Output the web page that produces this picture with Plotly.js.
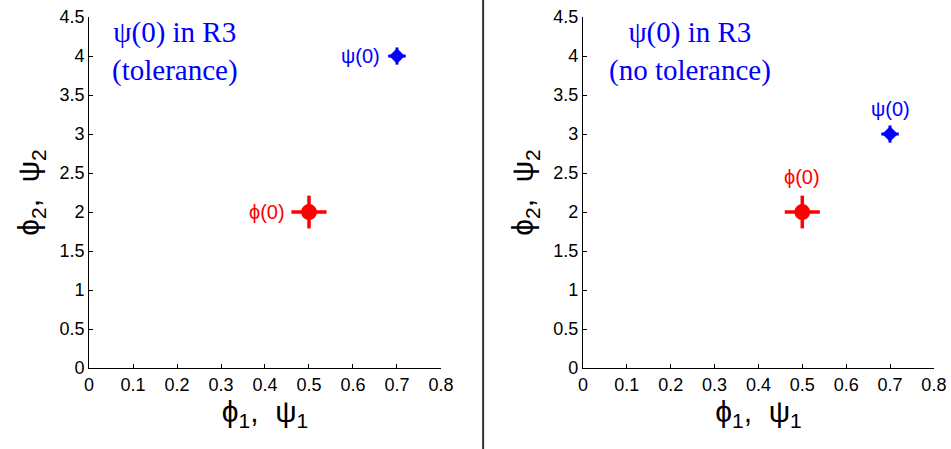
<!DOCTYPE html>
<html>
<head>
<meta charset="utf-8">
<script src="https://cdn.plot.ly/plotly-3.0.1.min.js"></script>
<style>html,body{margin:0;padding:0;background:#fff;}#chart{width:951px;height:449px;}</style>
</head>
<body>
<div id="chart"></div>
<script>
// Data
const phiX = [0.5];
const phiY = [2];
const phiErrX = [0.04];
const phiErrY = [0.21];
const psiLeftX = [0.7];
const psiLeftY = [4];
const psiRightX = [0.7];
const psiRightY = [3];
const psiErrX = [0.02];
const psiErrY = [0.11];
const xTicks = [0, 0.1, 0.2, 0.3, 0.4, 0.5, 0.6, 0.7, 0.8];
const yTicks = [0, 0.5, 1, 1.5, 2, 2.5, 3, 3.5, 4, 4.5];
const panelTitles = ["ψ(0) in R3<br>(tolerance)", "ψ(0) in R3<br>(no tolerance)"];

const RED = '#ff0000', BLUE = '#0000ff';

function phiTrace(xa, ya) {
  return {x: phiX, y: phiY, xaxis: xa, yaxis: ya, type: 'scatter', mode: 'markers',
    marker: {color: RED, size: 16, symbol: 'circle'},
    error_x: {type: 'data', array: phiErrX, color: RED, thickness: 3.5, width: 0},
    error_y: {type: 'data', array: phiErrY, color: RED, thickness: 3.5, width: 0},
    hoverinfo: 'skip', showlegend: false};
}
function psiTrace(xs, ys, xa, ya) {
  return {x: xs, y: ys, xaxis: xa, yaxis: ya, type: 'scatter', mode: 'markers',
    marker: {color: BLUE, size: 12, symbol: 'diamond'},
    error_x: {type: 'data', array: psiErrX, color: BLUE, thickness: 3, width: 0},
    error_y: {type: 'data', array: psiErrY, color: BLUE, thickness: 3, width: 0},
    hoverinfo: 'skip', showlegend: false};
}

const data = [
  phiTrace('x', 'y'), psiTrace(psiLeftX, psiLeftY, 'x', 'y'),
  phiTrace('x2', 'y2'), psiTrace(psiRightX, psiRightY, 'x2', 'y2')
];

const SANS = 'Liberation Sans, Arial, sans-serif';
const tickFont = {family: SANS, size: 18, color: '#000'};
const titleFont = {family: SANS, size: 30, color: '#000'};
const labelFont = (c) => ({family: SANS, size: 20, color: c});
const serifFont = {family: 'Liberation Serif, Times New Roman, serif', size: 29, color: BLUE};

function xAxis(domain, anchor) {
  return {domain: domain, anchor: anchor, range: [0, 0.8], tickvals: xTicks,
    ticktext: xTicks.map(String), ticks: 'inside', ticklen: 4, tickcolor: '#000',
    showline: true, linecolor: '#000', linewidth: 1, mirror: false, showgrid: false, zeroline: false,
    tickfont: tickFont, fixedrange: true,
    title: {text: 'ϕ<sub>1</sub>,  ψ<sub>1</sub>', font: titleFont, standoff: 6}};
}
function yAxis(domain, anchor) {
  return {domain: domain, anchor: anchor, range: [0, 4.5], tickvals: yTicks,
    ticktext: yTicks.map(String), ticks: 'inside', ticklen: 4, tickcolor: '#000',
    showline: true, linecolor: '#000', linewidth: 1, mirror: false, showgrid: false, zeroline: false,
    tickfont: tickFont, fixedrange: true,
    title: {text: 'ϕ<sub>2</sub>,  ψ<sub>2</sub>', font: titleFont, standoff: 10}};
}

const yDom = [0.1804, 0.962];
const layout = {
  width: 951, height: 449,
  margin: {l: 0, r: 0, t: 0, b: 0},
  paper_bgcolor: '#fff', plot_bgcolor: '#fff',
  xaxis: xAxis([0.0936, 0.4637], 'y'),
  yaxis: yAxis(yDom, 'x'),
  xaxis2: xAxis([0.613, 0.982], 'y2'),
  yaxis2: yAxis(yDom, 'x2'),
  shapes: [{type: 'line', xref: 'paper', yref: 'paper', x0: 0.508, x1: 0.508, y0: 0, y1: 1,
    line: {color: '#333', width: 2}}],
  annotations: [
    {xref: 'x', yref: 'y', x: 0.196, y: 4.06, text: panelTitles[0], showarrow: false,
     font: serifFont, align: 'center', xanchor: 'center', yanchor: 'middle'},
    {xref: 'x2', yref: 'y2', x: 0.244, y: 4.06, text: panelTitles[1], showarrow: false,
     font: serifFont, align: 'center', xanchor: 'center', yanchor: 'middle'},
    {xref: 'x', yref: 'y', x: psiLeftX[0] - 0.035, y: psiLeftY[0], text: 'ψ(0)', showarrow: false,
     font: labelFont(BLUE), xanchor: 'right', yanchor: 'middle'},
    {xref: 'x', yref: 'y', x: phiX[0] - 0.05, y: phiY[0], text: 'ϕ(0)', showarrow: false,
     font: labelFont(RED), xanchor: 'right', yanchor: 'middle'},
    {xref: 'x2', yref: 'y2', x: psiRightX[0], y: psiRightY[0] + 0.15, text: 'ψ(0)', showarrow: false,
     font: labelFont(BLUE), xanchor: 'center', yanchor: 'bottom'},
    {xref: 'x2', yref: 'y2', x: phiX[0], y: phiY[0] + 0.28, text: 'ϕ(0)', showarrow: false,
     font: labelFont(RED), xanchor: 'center', yanchor: 'bottom'}
  ]
};

Plotly.newPlot('chart', data, layout, {displayModeBar: false, staticPlot: true});
</script>
</body>
</html>
